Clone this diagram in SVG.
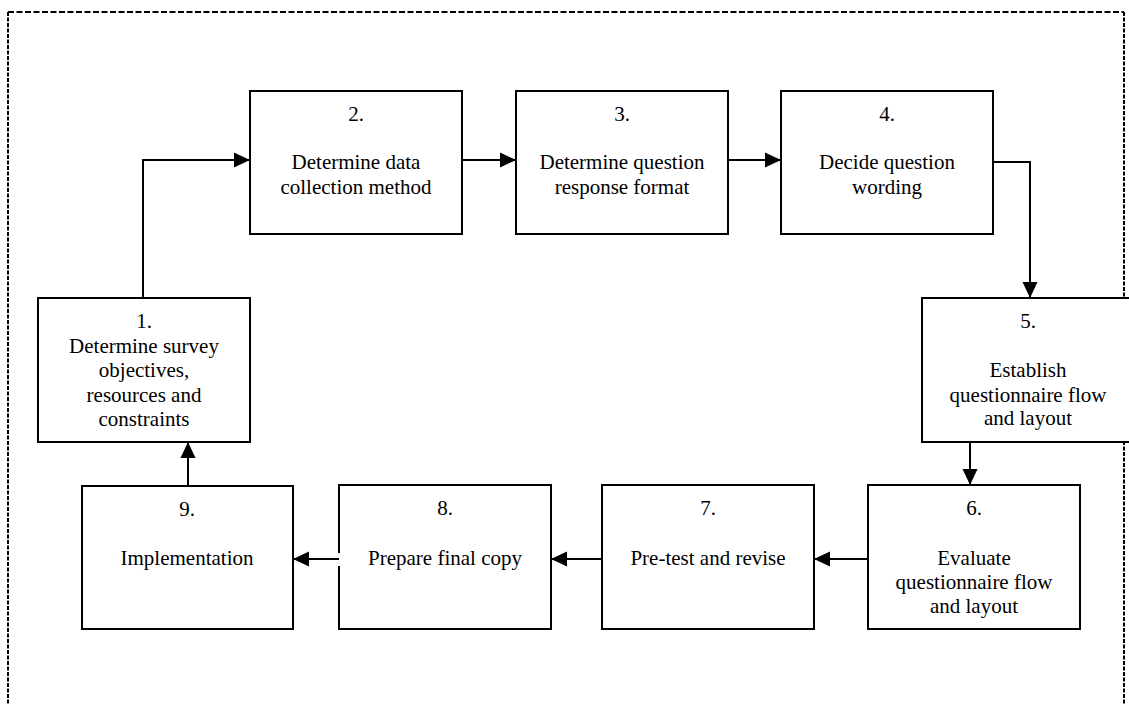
<svg xmlns="http://www.w3.org/2000/svg" width="1129" height="704" viewBox="0 0 1129 704">
  <style>
    .box { fill: #ffffff; stroke: #000000; stroke-width: 2; }
    .edge { fill: none; stroke: #000000; stroke-width: 2; }
    .frame { fill: none; stroke: #000000; stroke-width: 2; }
    text { font-family: "Liberation Serif", "Times New Roman", serif; font-size: 21px; fill: #000000; text-anchor: middle; }
  </style>
  <defs>
    <marker id="arrow" markerUnits="userSpaceOnUse" markerWidth="16" markerHeight="16" refX="16" refY="8" orient="auto">
      <path d="M0,0.5 L16,8 L0,15.5 z" fill="#000000"/>
    </marker>
  </defs>
  <rect width="1129" height="704" fill="#ffffff"/>

  <!-- dashed outer frame, open at the bottom -->
  <g id="frame">
    <line class="frame" x1="8" y1="12" x2="1124" y2="12" stroke-dasharray="6 2.5"/>
    <line class="frame" x1="8" y1="12" x2="8" y2="704" stroke-dasharray="4 1.5"/>
    <line class="frame" x1="1124" y1="12" x2="1124" y2="704" stroke-dasharray="4 1.5"/>
  </g>

  <g id="connectors">
    <polyline class="edge" points="143,298 143,160 250,160" marker-end="url(#arrow)"/>
    <line class="edge" x1="462" y1="160" x2="516" y2="160" marker-end="url(#arrow)"/>
    <line class="edge" x1="728" y1="160" x2="781" y2="160" marker-end="url(#arrow)"/>
    <polyline class="edge" points="993,162 1030,162 1030,298" marker-end="url(#arrow)"/>
    <line class="edge" x1="970" y1="442" x2="970" y2="485" marker-end="url(#arrow)"/>
    <line class="edge" x1="868" y1="559" x2="814" y2="559" marker-end="url(#arrow)"/>
    <line class="edge" x1="602" y1="559" x2="551" y2="559" marker-end="url(#arrow)"/>
    <line class="edge" x1="346" y1="559" x2="293" y2="559" marker-end="url(#arrow)"/>
    <line class="edge" x1="188" y1="486" x2="188" y2="442" marker-end="url(#arrow)"/>
  </g>

  <g id="node1">
    <rect class="box" x="38" y="298" width="212" height="144"/>
    <text x="144" y="328">1.</text>
    <text x="144" y="353">Determine survey</text>
    <text x="144" y="377">objectives,</text>
    <text x="144" y="402">resources and</text>
    <text x="144" y="426">constraints</text>
  </g>

  <g id="node2">
    <rect class="box" x="250" y="91" width="212" height="143"/>
    <text x="356" y="121">2.</text>
    <text x="356" y="169">Determine data</text>
    <text x="356" y="194">collection method</text>
  </g>

  <g id="node3">
    <rect class="box" x="516" y="91" width="212" height="143"/>
    <text x="622" y="121">3.</text>
    <text x="622" y="169">Determine question</text>
    <text x="622" y="194">response format</text>
  </g>

  <g id="node4">
    <rect class="box" x="781" y="91" width="212" height="143"/>
    <text x="887" y="121">4.</text>
    <text x="887" y="169">Decide question</text>
    <text x="887" y="194">wording</text>
  </g>

  <g id="node5">
    <rect class="box" x="922" y="298" width="212" height="144"/>
    <text x="1028" y="328">5.</text>
    <text x="1028" y="377">Establish</text>
    <text x="1028" y="402">questionnaire flow</text>
    <text x="1028" y="425">and layout</text>
  </g>

  <g id="node6">
    <rect class="box" x="868" y="485" width="212" height="144"/>
    <text x="974" y="515">6.</text>
    <text x="974" y="565">Evaluate</text>
    <text x="974" y="589">questionnaire flow</text>
    <text x="974" y="613">and layout</text>
  </g>

  <g id="node7">
    <rect class="box" x="602" y="485" width="212" height="144"/>
    <text x="708" y="515">7.</text>
    <text x="708" y="565">Pre-test and revise</text>
  </g>

  <g id="node8">
    <rect x="339" y="485" width="212" height="144" fill="#ffffff"/>
    <!-- outline with a small opening where the outgoing arrow leaves -->
    <path class="edge" d="M339,553 L339,485 L551,485 L551,629 L339,629 L339,566"/>
    <text x="445" y="515">8.</text>
    <text x="445" y="565">Prepare final copy</text>
  </g>

  <g id="node9">
    <rect class="box" x="82" y="486" width="211" height="143"/>
    <text x="187" y="516">9.</text>
    <text x="187" y="565">Implementation</text>
  </g>
</svg>
